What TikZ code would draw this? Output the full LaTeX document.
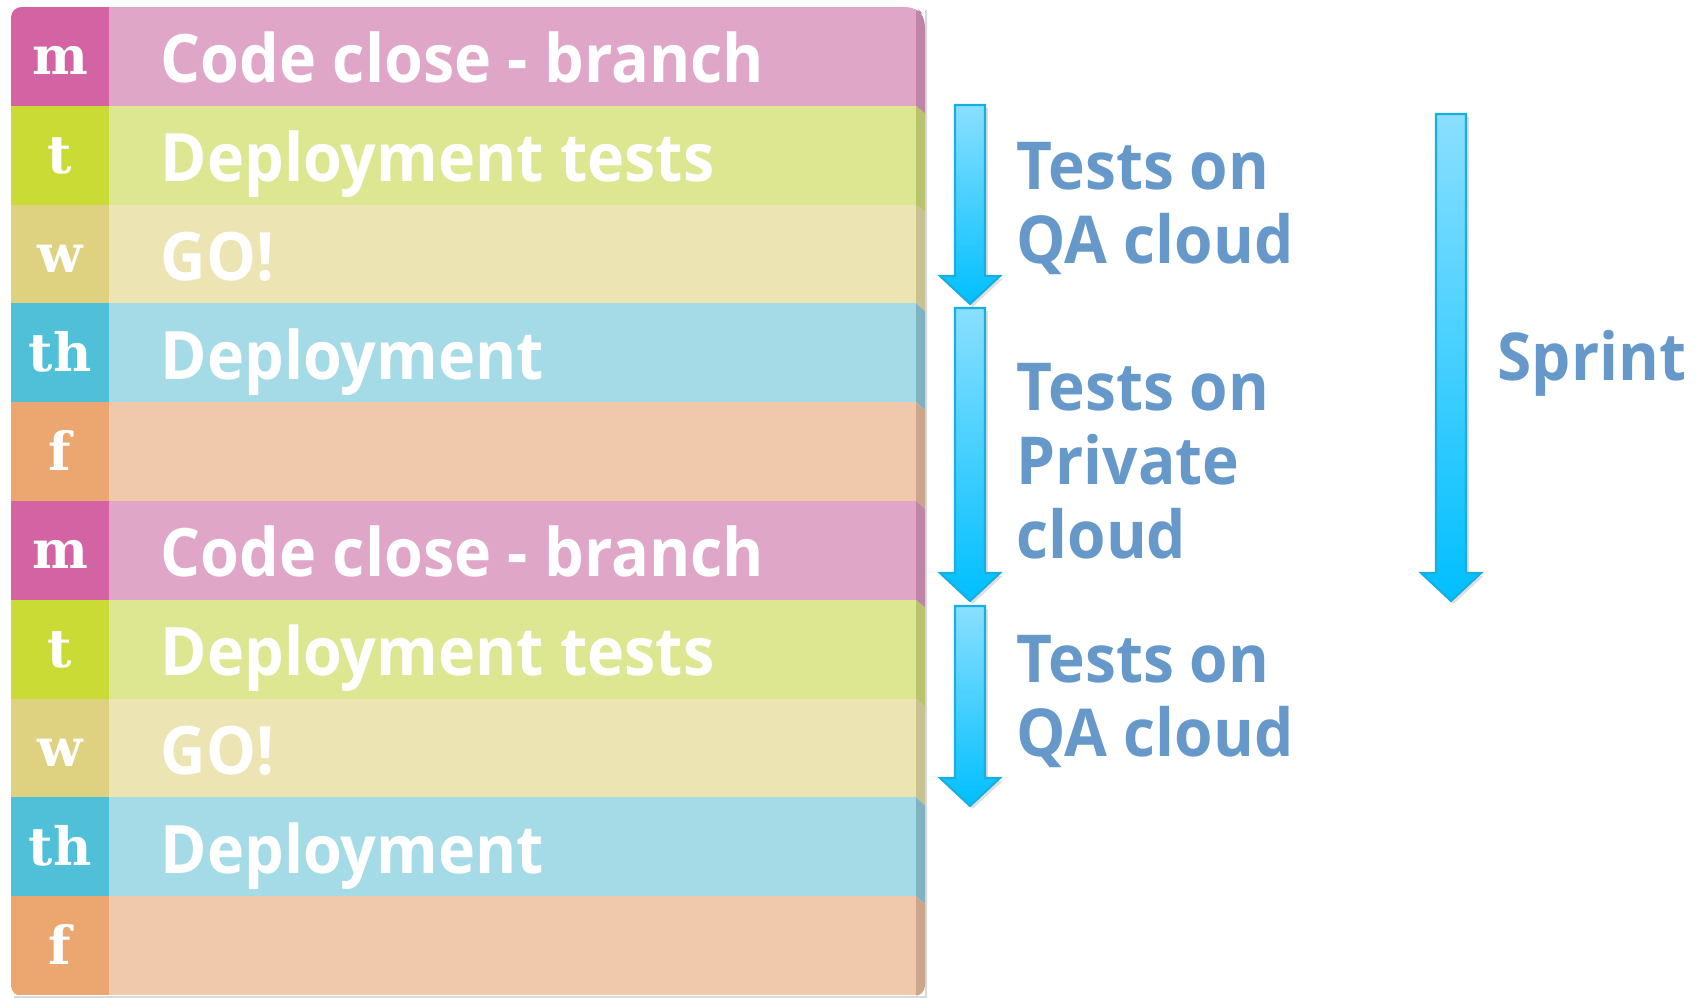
\documentclass[tikz,border=0pt]{standalone}
\usepackage{fontspec}
\setmainfont{Open Sans}[BoldFeatures={FakeStretch=0.94}]
\newfontfamily\dayfont{DejaVu Serif}
\usetikzlibrary{shadows}

\definecolor{daym}{HTML}{D363A2}
\definecolor{rowm}{HTML}{E0A6C8}
\definecolor{sidem}{HTML}{BF85A5}
\definecolor{dayt}{HTML}{C9DB34}
\definecolor{rowt}{HTML}{DDE792}
\definecolor{sidet}{HTML}{BAC36C}
\definecolor{dayw}{HTML}{DED17F}
\definecolor{roww}{HTML}{ECE4B3}
\definecolor{sidew}{HTML}{C8C190}
\definecolor{dayth}{HTML}{50BFD8}
\definecolor{rowth}{HTML}{A5DAE7}
\definecolor{sideth}{HTML}{7FB3C3}
\definecolor{dayf}{HTML}{EBA76F}
\definecolor{rowf}{HTML}{F0C9AC}
\definecolor{sidef}{HTML}{CBA68B}
\definecolor{labelblue}{HTML}{6699C9}
\definecolor{arrowtop}{HTML}{8ADFFF}
\definecolor{arrowbot}{HTML}{00BFFF}
\definecolor{arrowline}{HTML}{18AEE0}

\tikzset{
  daylabel/.style={font=\dayfont\bfseries\fontsize{15}{17}\selectfont, text=white, anchor=base, inner sep=0pt},
  tasklabel/.style={font=\bfseries\fontsize{19}{21}\selectfont, text=white, anchor=base west, inner sep=0pt},
  testlabel/.style={font=\bfseries\fontsize{18.8}{21.05}\selectfont, text=labelblue, align=left, anchor=north west, inner sep=0pt},
  bluearrow/.style={top color=arrowtop, bottom color=arrowbot, draw=arrowline, line width=0.6pt,
    drop shadow={opacity=0.25, shadow xshift=0.8pt, shadow yshift=-0.8pt}}
}

% block arrow: x, top, head start, tip
\newcommand{\blockarrow}[4]{
  \path[bluearrow] (#1-15,#2) -- (#1+15,#2) -- (#1+15,#3) -- (#1+30,#3)
    -- (#1,#4) -- (#1-30,#3) -- (#1-15,#3) -- cycle;
}

\begin{document}
\begin{tikzpicture}[x=0.01cm,y=-0.01cm]
  \useasboundingbox (0,0) rectangle (1698,998);

  % week table
  \fill[black!15] (14,998) -- (927,998) -- (927,10) -- (925,10) -- (925,996) -- (14,996) -- cycle;
  \begin{scope}
    \clip[rounded corners=3pt] (11,7) -- (916,7) -- (925,16) -- (925,996) -- (11,996) -- cycle;
    \foreach \d/\t [count=\i from 0] in {m/Code close - branch, t/Deployment tests, w/GO!, th/Deployment, f/{},
                                          m/Code close - branch, t/Deployment tests, w/GO!, th/Deployment, f/{}} {
      \pgfmathsetmacro\rowtop{7+98.8*\i}
      \fill[fill=day\d] (11,\rowtop) rectangle (109,\rowtop+98.8);
      \fill[fill=row\d] (109,\rowtop) rectangle (916,\rowtop+98.8);
      \fill[fill=side\d] (916,\rowtop) -- (925,\rowtop+8) -- (925,\rowtop+106.8) -- (916,\rowtop+98.8) -- cycle;
      \node[daylabel] (day\i) at (60,\rowtop+68) {\d};
      \node[tasklabel] (task\i) at (160,\rowtop+76) {\t};
    }
  \end{scope}

  % arrows
  \blockarrow{970}{105}{276}{304}
  \blockarrow{970}{308}{573}{601}
  \blockarrow{970}{606}{778}{806}
  \blockarrow{1451}{114}{573}{601}

  \node[testlabel] (qa1) at (1016,142) {Tests on\\QA cloud};
  \node[testlabel] (private) at (1016,363) {Tests on\\Private\\cloud};
  \node[testlabel] (qa2) at (1016,635) {Tests on\\QA cloud};
  \node[testlabel] (sprint) at (1497,330) {Sprint};
\end{tikzpicture}
\end{document}
